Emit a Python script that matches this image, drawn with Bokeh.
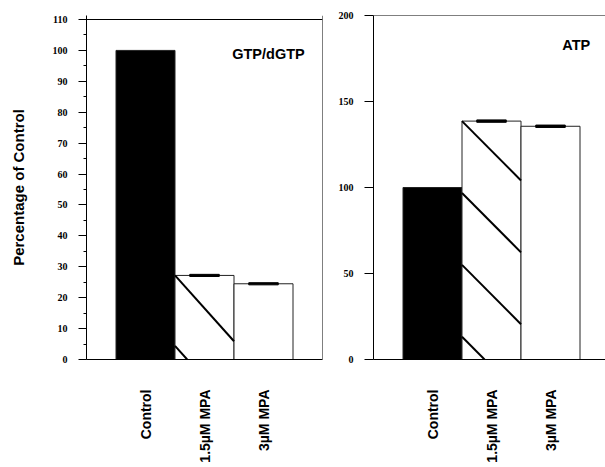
import math
from bokeh.plotting import figure
from bokeh.models import FixedTicker, Span, Label, Range1d
from bokeh.layouts import row
from bokeh.embed import file_html
from bokeh.resources import INLINE

categories = ["Control", "1.5µM MPA", "3µM MPA"]
gtp_values = [100, 27.2, 24.5]
gtp_errors = [0, 0.35, 0.35]
atp_values = [100, 138.6, 135.6]
atp_errors = [0, 0.7, 0.7]
gtp_ticks = list(range(0, 111, 10))
gtp_minor = list(range(5, 110, 10))
atp_ticks = [0, 50, 100, 150, 200]
panel_titles = ["GTP/dGTP", "ATP"]
y_title = "Percentage of Control"

BOLD_FONT = "Liberation Sans"
NARROW_FONT = "Liberation Sans Narrow"
fills = ["black", "white", "white"]
xs = [i + 1 for i in range(len(categories))]

FRAME_H = 344  # px, shared by both panels (row aligns frames)


def hatch_segments(x0, x1, top, step, drop):
    sx0, sy0, sx1, sy1 = [], [], [], []
    k = 0
    while True:
        ys = top - k * step
        if ys <= 0:
            break
        ye = ys - drop
        xe = x1
        if ye < 0:
            xe = x0 + (x1 - x0) * ys / drop
            ye = 0
        sx0.append(x0); sy0.append(ys); sx1.append(xe); sy1.append(ye)
        k += 1
    return sx0, sy0, sx1, sy1


def make_panel(vals, errs, ticks, minor, ymax, xmax, width,
               bl, br, step, drop, tick_out, ylabel):
    p = figure(width=width, height=467, output_backend="svg",
               toolbar_location=None, x_range=Range1d(0, xmax),
               y_range=Range1d(0, ymax),
               min_border_left=bl, min_border_right=br,
               min_border_top=15, min_border_bottom=108)
    p.xgrid.visible = False
    p.ygrid.visible = False
    p.background_fill_color = "white"
    p.border_fill_color = "white"
    p.outline_line_color = None

    p.vbar(x=xs, top=vals, width=1.0, bottom=0, fill_color=fills,
           line_color="#222222", line_width=1)
    sx0, sy0, sx1, sy1 = hatch_segments(xs[1] - 0.5, xs[1] + 0.5, vals[1], step, drop)
    p.segment(x0=sx0, y0=sy0, x1=sx1, y1=sy1, line_color="black", line_width=2)
    p.rect(x=xs[1:], y=vals[1:], width=0.5, height=[2 * e for e in errs[1:]],
           fill_color="black", line_color="black", line_width=1)

    ya = p.yaxis[0]
    ya.ticker = FixedTicker(ticks=ticks, minor_ticks=minor)
    ya.major_tick_out = tick_out
    ya.major_tick_in = 0
    ya.minor_tick_out = 3
    ya.minor_tick_in = 0
    ya.major_label_standoff = 11
    ya.major_label_text_font = NARROW_FONT
    ya.major_label_text_font_style = "bold"
    ya.major_label_text_font_size = "10px"
    ya.major_label_text_color = "black"
    ya.axis_line_color = "black"
    ya.major_tick_line_color = "black"
    ya.minor_tick_line_color = "black" if minor else None
    if ylabel:
        ya.axis_label = ylabel
        ya.axis_label_text_font = BOLD_FONT
        ya.axis_label_text_font_style = "bold"
        ya.axis_label_text_font_size = "15px"
        ya.axis_label_text_color = "black"
        ya.axis_label_standoff = 23

    xa = p.xaxis[0]
    xa.ticker = FixedTicker(ticks=xs)
    xa.major_label_overrides = {x: c for x, c in zip(xs, categories)}
    xa.major_label_orientation = math.pi / 2
    xa.major_tick_out = 0
    xa.major_tick_in = 0
    xa.major_tick_line_color = None
    xa.minor_tick_line_color = None
    xa.major_label_standoff = 30
    xa.major_label_text_font = BOLD_FONT
    xa.major_label_text_font_style = "bold"
    xa.major_label_text_font_size = "14px"
    xa.major_label_text_color = "black"
    xa.axis_line_color = "black"
    return p


# left panel: 110 sits 4px below the shared frame top
gtp_top = gtp_ticks[-1] * FRAME_H / (FRAME_H - 4)
p1 = make_panel(gtp_values, gtp_errors, gtp_ticks, gtp_minor, gtp_top, 4,
                323, 86, 1, 22.8, 21.3, 8, y_title)
p1.add_layout(Span(location=gtp_ticks[-1], dimension="width",
                   line_color="black", line_width=1))
p1.add_layout(Span(location=4, dimension="height",
                   line_color="black", line_width=1))
p1.add_layout(Label(x=2.47, y=99, text=panel_titles[0], text_font=BOLD_FONT,
                    text_font_style="bold", text_font_size="14.5px",
                    text_color="black",
                    text_baseline="middle", text_align="left"))

p2 = make_panel(atp_values, atp_errors, atp_ticks, [], 200, 232 / 59,
                282, 50, 0, 41.8, 34.5, 9, None)
p2.add_layout(Span(location=200, dimension="width", line_color="black", line_width=1))
p2.add_layout(Label(x=3.2, y=183, text=panel_titles[1], text_font=BOLD_FONT,
                    text_font_style="bold", text_font_size="14.5px",
                    text_color="black",
                    text_baseline="middle", text_align="left"))

layout = row(p1, p2)
open("out.html", "w").write(file_html(layout, INLINE))
